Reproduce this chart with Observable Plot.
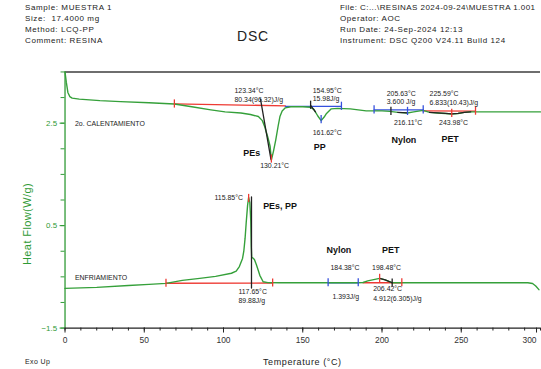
<!DOCTYPE html>
<html>
<head>
<meta charset="utf-8">
<script src="https://cdn.jsdelivr.net/npm/d3@7"></script>
<script src="https://cdn.jsdelivr.net/npm/@observablehq/plot@0.6"></script>
<style>
  html, body { margin: 0; padding: 0; background: #fff; overflow: hidden; }
  #wrap { position: relative; width: 541px; height: 369px; overflow: hidden; font-family: "Liberation Sans", Arial, sans-serif; }
  #chart { position: absolute; left: 0; top: 0; }
  .t { position: absolute; white-space: nowrap; line-height: 1; color: #222; }
  .hdr { font-size: 8px; letter-spacing: 0.6px; }
</style>
</head>
<body>
<div id="wrap">
  <div id="chart"></div>
  <div class="t hdr" style="left:25px;top:4px">Sample: MUESTRA 1</div>
  <div class="t hdr" style="left:25px;top:15px">Size:&nbsp; 17.4000 mg</div>
  <div class="t hdr" style="left:25px;top:26px">Method: LCQ-PP</div>
  <div class="t hdr" style="left:25px;top:37px">Comment: RESINA</div>
  <div class="t" style="left:237px;top:29px;font-size:14px;letter-spacing:0.8px">DSC</div>
  <div class="t hdr" style="left:340px;top:4px;letter-spacing:0.45px">File: C:...\RESINAS 2024-09-24\MUESTRA 1.001</div>
  <div class="t hdr" style="left:340px;top:15px">Operator: AOC</div>
  <div class="t hdr" style="left:340px;top:26px">Run Date: 24-Sep-2024 12:13</div>
  <div class="t hdr" style="left:340px;top:37px">Instrument: DSC Q200 V24.11 Build 124</div>
  <div class="t" style="left:25px;top:358px;font-size:7px;letter-spacing:0.4px">Exo Up</div>
  <div class="t" style="left:263px;top:358px;font-size:9px;letter-spacing:0.6px">Temperature (°C)</div>
  <div class="t" style="left:27px;top:224px;font-size:11px;letter-spacing:0.4px;color:#2f9a35;transform:translate(-50%,-50%) rotate(-90deg)">Heat Flow(W/g)</div>
</div>
<script>
// ---- Data ----
const heatT  = [0, 0.8, 1.8, 3, 4.5, 9, 22, 35, 53, 69, 80, 92, 101, 111, 117, 122, 124.5, 126, 128, 129.4, 130.2, 131.5, 133, 134.5, 135.6, 137, 139, 142.5, 150, 155, 157, 159.5, 161.6, 163.5, 165, 168, 172, 180, 190, 200, 205, 210, 216, 220, 226, 230, 235, 240, 244, 248, 252, 256, 260, 270, 280, 290, 300];
const heatHF = [3.5, 3.3, 3.1, 3.02, 2.99, 2.97, 2.94, 2.92, 2.90, 2.875, 2.82, 2.76, 2.72, 2.70, 2.67, 2.63, 2.55, 2.43, 2.22, 2.05, 1.78, 1.95, 2.18, 2.45, 2.63, 2.74, 2.80, 2.82, 2.82, 2.81, 2.77, 2.64, 2.55, 2.62, 2.69, 2.78, 2.79, 2.78, 2.74, 2.74, 2.73, 2.71, 2.70, 2.72, 2.75, 2.71, 2.70, 2.69, 2.68, 2.69, 2.71, 2.72, 2.72, 2.72, 2.72, 2.72, 2.72];

const coolT  = [0, 20, 40, 53, 63.7, 74, 85, 95, 105, 108, 110, 112, 112.8, 113.6, 114.3, 115.2, 115.85, 116.6, 117.2, 117.5, 117.8, 118.5, 119.5, 120.8, 122, 122.9, 125, 128, 135, 150, 166, 185, 188, 191, 194, 198.5, 202, 206.4, 210, 220, 250, 280, 292, 295, 297, 299];
const coolHF = [-0.725, -0.705, -0.67, -0.647, -0.628, -0.57, -0.53, -0.49, -0.43, -0.39, -0.30, -0.14, 0.0, 0.25, 0.55, 0.9, 1.05, 0.95, 0.6, 0.1, -0.12, -0.13, -0.16, -0.27, -0.38, -0.47, -0.595, -0.612, -0.615, -0.615, -0.615, -0.615, -0.61, -0.58, -0.56, -0.53, -0.56, -0.615, -0.615, -0.615, -0.615, -0.615, -0.615, -0.63, -0.68, -0.75];

// integration baselines (pairs of temperatures / heat flows)
const redBaseT  = [[69, 139], [226, 259], [63.7, 131], [188, 212.5]];
const redBaseV  = [[2.875, 2.84], [2.74, 2.735], [-0.625, -0.62], [-0.615, -0.615]];
const blueBaseT = [[139, 174.4], [195, 226], [166, 185]];
const blueBaseV = [[2.83, 2.83], [2.76, 2.76], [-0.615, -0.615]];
// marker ticks
const redTickT   = [69, 130.2, 244, 259, 63.7, 115.85, 131, 198.5, 212.5];
const redTickV   = [2.875, 1.8, 2.69, 2.735, -0.625, 1.03, -0.62, -0.53, -0.615];
const blueTickT  = [161.6, 174.4, 195, 216.1, 226, 166, 185];
const blueTickV  = [2.57, 2.83, 2.76, 2.73, 2.76, -0.615, -0.615];
const blackTickT = [154.95, 205.63, 206.42];
const blackTickV = [2.85, 2.73, -0.62];
// tangent / peak lines
const blackLineT = [[123.34, 129.9], [154.95, 158], [117.65, 117.65]];
const blackLineV = [[2.97, 1.8], [2.85, 2.72], [1.06, -0.72]];
// portions of curves drawn black
const heatBlackRanges = [[205.6, 216.2], [227, 258]];
const coolBlackRanges = [[198.5, 206.5]];

// annotation texts
const noteText = ["123.34°C", "80.34(96.32)J/g", "130.21°C", "154.95°C", "15.98J/g", "161.62°C",
  "205.63°C", "3.600 J/g", "216.11°C", "225.59°C", "6.833(10.43)J/g", "243.98°C",
  "117.65°C", "89.88J/g", "184.38°C", "198.48°C", "1.393J/g", "206.42°C", "4.912(6.305)J/g",
  "2o. CALENTAMIENTO", "ENFRIAMIENTO"];
const noteT = [106.9, 106.9, 123.1, 156.25, 156.25, 156.25, 203, 203, 207.5, 230, 230, 236,
  109.4, 109.4, 167.5, 193.75, 168.75, 194.4, 194.4, 6.25, 6.25];
const noteV = [3.13, 2.96, 1.66, 3.13, 2.98, 2.32, 3.07, 2.92, 2.51, 3.07, 2.90, 2.51,
  -0.80, -0.975, -0.32, -0.32, -0.88, -0.74, -0.92, 2.49, -0.51];
const peakNoteText = ["115.85°C"];
const peakNoteT = [112.3];
const peakNoteV = [1.04];
const labelText = ["PEs", "PP", "Nylon", "PET", "PEs, PP", "Nylon", "PET"];
const labelT = [112.5, 157, 206, 237.5, 125, 165, 200];
const labelV = [1.91, 2.03, 2.16, 2.18, 0.88, 0.03, 0.03];

const xMajor = [0, 50, 100, 150, 200, 250];
const xLast = [300];
const xMinor = d3.range(0, 301, 10);
const yMajor = [2.5, 0.5, -1.5];
const yMinor = d3.range(-1.5, 3.51, 0.5);

// ---- Build tables ----
const GREEN = "#35a03a", RED = "#ee3a33", BLUE = "#3550dd", AXG = "#2f9a35";
const heat = heatT.map((t, i) => ({t, v: heatHF[i]}));
const cool = coolT.map((t, i) => ({t, v: coolHF[i]}));
const segs = (T, V) => T.flatMap((p, k) => p.map((t, j) => ({t, v: V[k][j], k})));
const ticks = (T, V) => T.map((t, i) => ({t, v: V[i]}));
const inRanges = (data, R) => R.flatMap((r, k) => data.filter(d => d.t >= r[0] && d.t <= r[1]).map(d => ({...d, k})));
const notes = noteText.map((s, i) => ({s, t: noteT[i], v: noteV[i]}));
const labels = labelText.map((s, i) => ({s, t: labelT[i], v: labelV[i]}));
const peakNotes = peakNoteText.map((s, i) => ({s, t: peakNoteT[i], v: peakNoteV[i]}));
const TH = 0.08;

const chart = Plot.plot({
  width: 545, height: 369,
  marginLeft: 65, marginRight: 1, marginTop: 72, marginBottom: 39,
  x: {domain: [0, 300]},
  y: {domain: [-1.5, 3.5]},
  style: {fontFamily: "'Liberation Sans', Arial, sans-serif", background: "white", overflow: "visible"},
  marks: [
    Plot.ruleY([3.5], {stroke: "#6e6e6e", strokeWidth: 2}),
    Plot.axisY({ticks: yMinor, tickSize: 4, tickFormat: () => "", stroke: AXG, label: null}),
    Plot.axisY({ticks: yMajor, tickSize: 5, tickPadding: 3, fill: AXG, stroke: AXG, fontSize: 8, label: null, tickFormat: d3.format(".1f")}),
    Plot.axisX({ticks: xMinor, tickSize: 3, tickFormat: () => "", stroke: "#222", label: null}),
    Plot.axisX({ticks: xMajor, tickSize: 5, tickPadding: 4, fill: "#333", stroke: "#222", fontSize: 8.5, label: null}),
    Plot.axisX({ticks: xLast, tickSize: 5, tickPadding: 4, fill: "#333", stroke: "#222", fontSize: 8.5, label: null, textAnchor: "end", dx: -4}),
    Plot.ruleX([0], {stroke: AXG, strokeWidth: 1.3}),
    Plot.ruleY([-1.5], {stroke: "#222", strokeWidth: 1.3}),
    // baselines
    Plot.line(segs(redBaseT, redBaseV), {x: "t", y: "v", z: "k", stroke: RED, strokeWidth: 1.3}),
    Plot.line(segs(blueBaseT, blueBaseV), {x: "t", y: "v", z: "k", stroke: BLUE, strokeWidth: 1.3}),
    // curves
    Plot.line(heat, {x: "t", y: "v", stroke: GREEN, strokeWidth: 1.4}),
    Plot.line(cool, {x: "t", y: "v", stroke: GREEN, strokeWidth: 1.4}),
    Plot.line(inRanges(heat, heatBlackRanges), {x: "t", y: "v", z: "k", stroke: "#222", strokeWidth: 1.3}),
    Plot.line(inRanges(cool, coolBlackRanges), {x: "t", y: "v", z: "k", stroke: "#222", strokeWidth: 1.3}),
    Plot.line(segs(blackLineT, blackLineV), {x: "t", y: "v", z: "k", stroke: "#222", strokeWidth: 1.3}),
    // ticks
    Plot.ruleX(ticks(redTickT, redTickV), {x: "t", y1: d => d.v - TH, y2: d => d.v + TH, stroke: RED, strokeWidth: 1.3}),
    Plot.ruleX(ticks(blueTickT, blueTickV), {x: "t", y1: d => d.v - TH, y2: d => d.v + TH, stroke: BLUE, strokeWidth: 1.3}),
    Plot.ruleX(ticks(blackTickT, blackTickV), {x: "t", y1: d => d.v - TH, y2: d => d.v + TH, stroke: "#222", strokeWidth: 1.3}),
    // annotations
    Plot.text(notes, {x: "t", y: "v", text: "s", textAnchor: "start", fontSize: 7, fill: "#222", letterSpacing: "0.2px"}),
    Plot.text(peakNotes, {x: "t", y: "v", text: "s", textAnchor: "end", fontSize: 7, fill: "#222"}),
    Plot.text(labels, {x: "t", y: "v", text: "s", textAnchor: "start", fontSize: 9, fontWeight: "bold", fill: "#111"})
  ]
});
document.getElementById("chart").appendChild(chart);
</script>
</body>
</html>
